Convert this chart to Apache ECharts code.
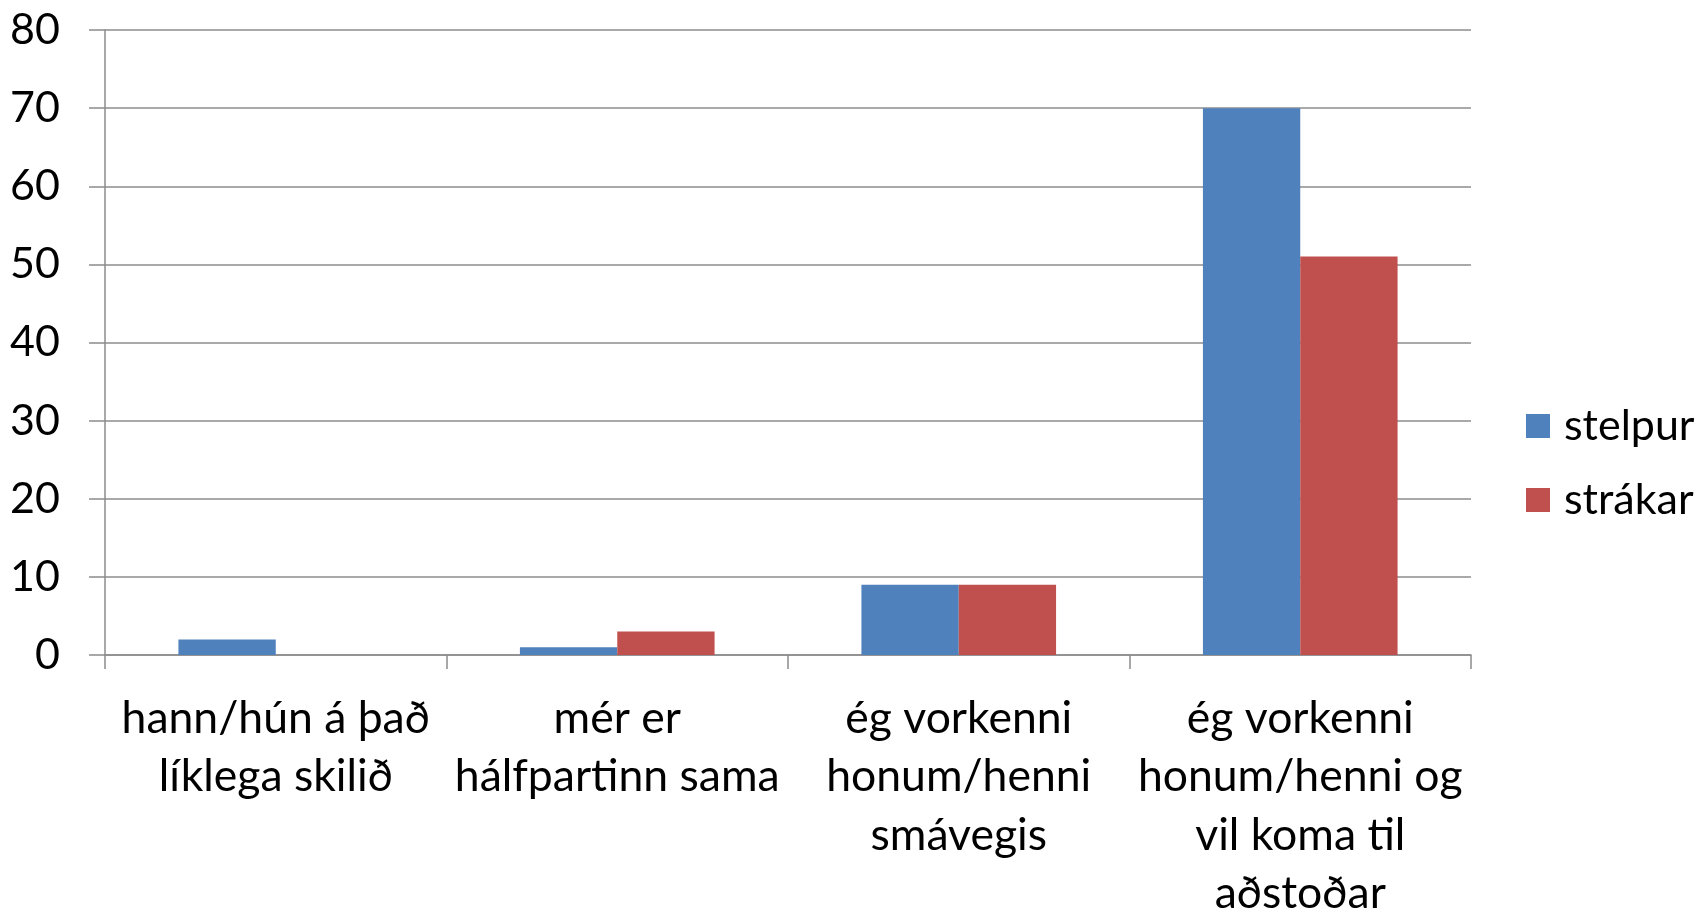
<!DOCTYPE html>
<html>
<head>
<meta charset="utf-8">
<script src="https://cdn.jsdelivr.net/npm/echarts@6/dist/echarts.min.js"></script>
<style>
  html, body { margin: 0; padding: 0; background: #fff; }
  #chart { width: 1700px; height: 911px; }
</style>
</head>
<body>
<div id="chart"></div>
<script>
// gögn lesin af myndinni
const categories = [
    'hann/hún á það\nlíklega skilið',
    'mér er\nhálfpartinn sama',
    'ég vorkenni\nhonum/henni\nsmávegis',
    'ég vorkenni\nhonum/henni og\nvil koma til\naðstoðar'
];
const stelpur = [2, 1, 9, 70];
const strakar = [0, 3, 9, 51];
const seriesNames = ['stelpur', 'strákar'];
const yTicks = { min: 0, max: 80, interval: 10 };

const FONT = 'Lato, "Open Sans", sans-serif';
const gray = '#8c8c8c';

const chart = echarts.init(document.getElementById('chart'));

chart.setOption({
    animation: false,
    textStyle: { fontFamily: FONT },
    grid: { left: 105, right: 229, top: 30, bottom: 256, containLabel: false, outerBoundsMode: 'none' },
    legend: {
        orient: 'vertical',
        left: 1521,
        top: 397,
        itemWidth: 24,
        itemHeight: 24,
        itemGap: 26,
        icon: 'rect',
        data: seriesNames,
        textStyle: { fontFamily: FONT, fontSize: 43, color: '#000', lineHeight: 48, padding: [0, 0, 0, 9] }
    },
    xAxis: {
        type: 'category',
        data: categories,
        axisLine: { lineStyle: { color: gray, width: 1.5 } },
        axisTick: { show: true, length: 14, lineStyle: { color: gray, width: 1.5 } },
        axisLabel: {
            interval: 0,
            margin: 34,
            fontFamily: FONT,
            fontSize: 44.5,
            lineHeight: 58.5,
            color: '#000',
            align: 'center',
            verticalAlign: 'top'
        }
    },
    yAxis: {
        type: 'value',
        min: yTicks.min,
        max: yTicks.max,
        interval: yTicks.interval,
        axisLine: { show: true, lineStyle: { color: gray, width: 1.5 } },
        axisTick: { show: true, length: 16, lineStyle: { color: gray, width: 1.5 } },
        splitLine: { lineStyle: { color: gray, width: 1.5 } },
        axisLabel: { margin: 45, fontFamily: FONT, fontSize: 43, color: '#000' }
    },
    series: [
        {
            name: seriesNames[0],
            type: 'bar',
            data: stelpur,
            barGap: '0%',
            barCategoryGap: '43%',
            itemStyle: { color: '#4F81BD' }
        },
        {
            name: seriesNames[1],
            type: 'bar',
            data: strakar,
            itemStyle: { color: '#C0504D' }
        }
    ]
});

window.addEventListener('resize', () => chart.resize());
</script>
</body>
</html>
